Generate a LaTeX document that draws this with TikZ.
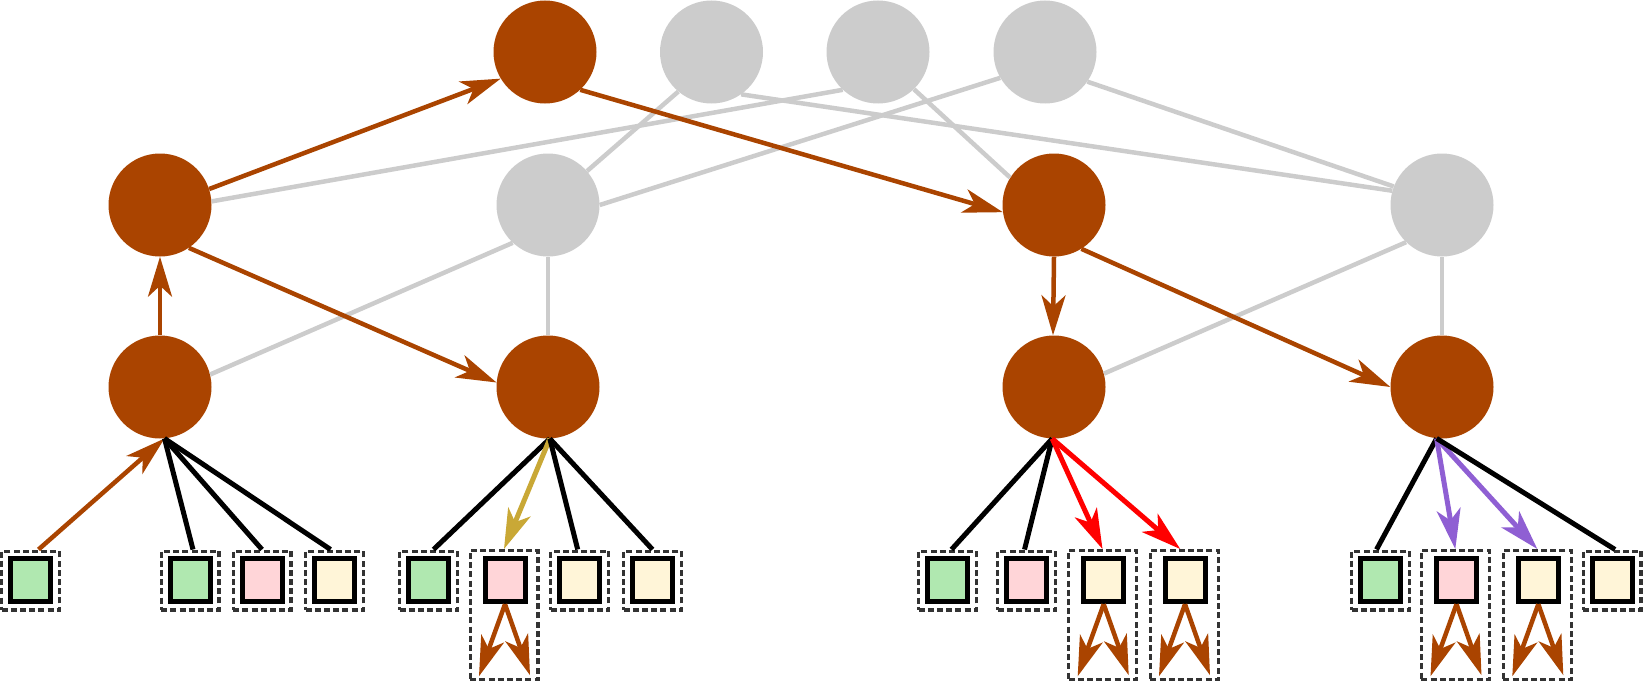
\documentclass[tikz,border=0pt]{standalone}
\usetikzlibrary{arrows.meta,calc}
\definecolor{brn}{RGB}{170,68,0}
\definecolor{lgray}{RGB}{204,204,204}
\definecolor{lgreen}{RGB}{176,232,176}
\definecolor{lpink}{RGB}{255,213,216}
\definecolor{lcream}{RGB}{255,245,216}
\definecolor{ylw}{RGB}{201,168,54}
\definecolor{prp}{RGB}{143,95,211}
\definecolor{dgray}{RGB}{51,51,51}
\begin{document}
\begin{tikzpicture}[x=1pt,y=-1pt,
  hot/.style={circle,fill=brn,minimum size=103pt,inner sep=0pt},
  cold/.style={circle,fill=lgray,minimum size=103pt,inner sep=0pt},
  frame/.style={draw=dgray,line width=3.2pt,dash pattern=on 6pt off 3.2pt,minimum width=57.8pt,minimum height=58.8pt,inner sep=0pt},
  tallframe/.style={frame,minimum width=67.8pt,minimum height=128.8pt},
  cell/.style={draw=black,line width=5pt,minimum width=40pt,minimum height=43pt,inner sep=0pt},
  gcell/.style={cell,fill=lgreen},
  pcell/.style={cell,fill=lpink},
  ycell/.style={cell,fill=lcream},
  tipped/.style={-{Stealth[length=40pt,width=24pt,inset=11pt]}},
  grayedge/.style={draw=lgray,line width=4.5pt},
  hotedge/.style={draw=brn,line width=4.5pt,tipped},
  blackedge/.style={draw=black,line width=5pt},
  yedge/.style={draw=ylw,line width=5pt,tipped},
  redge/.style={draw=red,line width=5pt,tipped},
  pedge/.style={draw=prp,line width=5pt,tipped},
]
\useasboundingbox (0,0) rectangle (1643,685);
% circle nodes
\node[hot]  (top1) at (545,52) {};
\node[cold] (top2) at (711.5,52) {};
\node[cold] (top3) at (878,52) {};
\node[cold] (top4) at (1045,52) {};
\node[hot]  (mid1) at (160,205) {};
\node[cold] (mid2) at (548,205) {};
\node[hot]  (mid3) at (1054,205) {};
\node[cold] (mid4) at (1442,205) {};
\node[hot]  (bot1) at (160,387) {};
\node[hot]  (bot2) at (548,387) {};
\node[hot]  (bot3) at (1054,387) {};
\node[hot]  (bot4) at (1442,387) {};
% leaf frames
\node[frame] (d1) at (30.5,580.5) {};
\node[frame] (d2) at (190,580.5) {};
\node[frame] (d3) at (262,580.5) {};
\node[frame] (d4) at (334.5,580.5) {};
\node[frame] (d5) at (428.5,580.5) {};
\node[tallframe] (d6) at (504,615) {};
\node[frame] (d7) at (579.7,580.5) {};
\node[frame] (d8) at (652.5,580.5) {};
\node[frame] (d9) at (947.5,580.5) {};
\node[frame] (d10) at (1026.5,580.5) {};
\node[tallframe] (d11) at (1102.5,615) {};
\node[tallframe] (d12) at (1184.2,615) {};
\node[frame] (d13) at (1380.5,580.5) {};
\node[tallframe] (d14) at (1455.3,615) {};
\node[tallframe] (d15) at (1537.3,615) {};
\node[frame] (d16) at (1612,580.5) {};
% leaf cells
\node[gcell] (c1) at (30.8,580.2) {};
\node[gcell] (c2) at (190,580.2) {};
\node[pcell] (c3) at (262,580.2) {};
\node[ycell] (c4) at (334.5,580.2) {};
\node[gcell] (c5) at (428.5,580.2) {};
\node[pcell] (c6) at (505,580.2) {};
\node[ycell] (c7) at (579.7,580.2) {};
\node[ycell] (c8) at (652.5,580.2) {};
\node[gcell] (c9) at (947.5,580.2) {};
\node[pcell] (c10) at (1026.5,580.2) {};
\node[ycell] (c11) at (1103.7,580.2) {};
\node[ycell] (c12) at (1185,580.2) {};
\node[gcell] (c13) at (1380.5,580.2) {};
\node[pcell] (c14) at (1456.5,580.2) {};
\node[ycell] (c15) at (1538.3,580.2) {};
\node[ycell] (c16) at (1612,580.2) {};
% gray edges
\draw[grayedge] (top2.230.8) -- (mid2.41.7);
\draw[grayedge] (top2.-55) -- (mid4.164.6);
\draw[grayedge] (top3.227.4) -- (mid1.4.6);
\draw[grayedge] (top3.-46.2) -- (mid3.148.5);
\draw[grayedge] (top4.210.3) -- (mid2.0);
\draw[grayedge] (top4.-35) -- (mid4.159);
\draw[grayedge] (mid2.227.7) -- (bot1.14.7);
\draw[grayedge] (mid2.south) -- (bot2.north);
\draw[grayedge] (mid4.226.5) -- (bot3.15.5);
\draw[grayedge] (mid4.south) -- (bot4.north);
% brown edges
\draw[hotedge] (bot1.north) -- (mid1.south);
\draw[hotedge] (mid1.18) -- (top1.211);
\draw[hotedge] (top1.-47) -- (mid3.188);
\draw[hotedge] (mid1.-56) -- (bot2.175);
\draw[hotedge] (mid3.south) -- ($(bot3.north)+(-1,0)$);
\draw[hotedge] (mid3.-58) -- (bot4.180);
% leaf edges
\draw[hotedge] ($(d1.north)+(8,0)$) -- (bot1.-85);
\draw[blackedge] (bot1.-85) -- ($(d2.north)+(3,0)$);
\draw[blackedge] (bot1.-85) -- (d3.north);
\draw[blackedge] (bot1.-85) -- ($(d4.north)+(-4,0)$);
\draw[blackedge] (bot2.-88) -- ($(d5.north)+(5,0)$);
\draw[yedge] (bot2.-88) -- (d6.north);
\draw[blackedge] (bot2.-88) -- ($(d7.north)+(-2,0)$);
\draw[blackedge] (bot2.-88) -- (d8.north);
\draw[blackedge] (bot3.-92) -- ($(d9.north)+(4,0)$);
\draw[blackedge] (bot3.-92) -- ($(d10.north)+(-2,0)$);
\draw[redge] (bot3.-92) -- (d11.north);
\draw[redge] (bot3.-92) -- ($(d12.north)+(-4,0)$);
\draw[blackedge] (bot4.-96) -- ($(d13.north)+(-4,0)$);
\draw[pedge] (bot4.-96) -- (d14.north);
\draw[pedge] (bot4.-96) -- (d15.north);
\draw[blackedge] (bot4.-96) -- ($(d16.north)+(3,0)$);
% inner arrows of tall frames
\foreach \c in {6,11,12,14,15}{
  \coordinate (l\c) at ($(c\c.south)+(-26,72)$);
  \coordinate (r\c) at ($(c\c.south)+(25,71)$);
  \draw[hotedge] (c\c.south) -- (l\c);
  \draw[hotedge] (c\c.south) -- (r\c);
}
\end{tikzpicture}
\end{document}
